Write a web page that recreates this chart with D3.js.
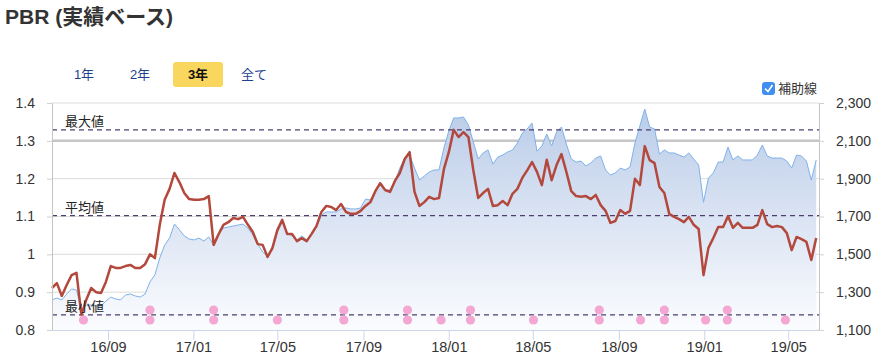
<!DOCTYPE html>
<html>
<head>
<meta charset="utf-8">
<script src="https://cdn.jsdelivr.net/npm/d3@7"></script>
<style>
  body { margin: 0; background: #fff; }
  text { font-family: "Liberation Sans", "Noto Sans CJK JP", sans-serif; }
</style>
</head>
<body>
<div id="container"></div>
<script>
// weekly PBR (left axis) and share price (right axis), starting 2016-06-13
let startDate = new Date(2016, 5, 13);
let endDate = new Date(2019, 5, 14);

let pbr = [
  0.911,0.924,0.890,0.919,0.945,0.951,0.84,0.88,0.911,0.900,
  0.898,0.927,0.969,0.964,0.964,0.969,0.972,0.964,0.964,0.974,
  1.00,0.99,1.078,1.144,1.173,1.215,1.191,1.162,1.146,1.144,
  1.144,1.146,1.154,1.025,1.053,1.078,1.085,1.096,1.093,1.099,
  1.078,1.059,1.027,1.025,0.993,1.017,1.064,1.091,1.054,1.054,
  1.035,1.043,1.035,1.054,1.075,1.112,1.128,1.125,1.117,1.133,
  1.112,1.107,1.107,1.115,1.128,1.138,1.167,1.188,1.17,1.165,
  1.194,1.215,1.252,1.27,1.165,1.128,1.138,1.152,1.146,1.149,
  1.225,1.27,1.329,1.31,1.323,1.31,1.223,1.149,1.162,1.173,
  1.128,1.13,1.141,1.13,1.16,1.173,1.202,1.222,1.244,1.218,
  1.183,1.25,1.196,1.236,1.265,1.218,1.167,1.154,1.152,1.154,
  1.146,1.157,1.13,1.115,1.083,1.088,1.117,1.107,1.115,1.2,
  1.183,1.286,1.249,1.241,1.178,1.162,1.107,1.099,1.093,1.085,
  1.099,1.078,1.067,0.945,1.017,1.043,1.072,1.072,1.101,1.07,
  1.083,1.07,1.07,1.07,1.078,1.117,1.08,1.072,1.075,1.072,
  1.056,1.011,1.046,1.04,1.033,0.985,1.043
];

let price = [
  1259,1269,1259,1290,1317,1311,1205,1230,1232,1227,
  1227,1253,1274,1264,1259,1285,1290,1280,1274,1290,
  1354,1391,1481,1549,1586,1660,1630,1597,1581,1576,
  1586,1570,1592,1549,1607,1639,1644,1650,1655,1660,
  1639,1602,1555,1512,1491,1523,1618,1671,1613,1597,
  1576,1597,1576,1607,1644,1708,1724,1724,1724,1740,
  1745,1740,1740,1745,1792,1787,1829,1882,1840,1840,
  1882,1956,2009,2025,1956,1893,1914,1935,1946,1946,
  2062,2152,2221,2221,2226,2184,2095,2004,2036,2052,
  1977,2014,2025,2041,2052,2088,2141,2163,2194,2046,
  2073,2136,2073,2147,2173,2083,2004,1988,1993,1967,
  1983,2009,2020,1946,1919,1930,1956,1946,1962,2088,
  2178,2268,2173,2163,2030,2052,2036,2036,2025,2014,
  2036,2004,1972,1775,1903,1930,1988,1988,2067,1999,
  2020,1999,1999,1999,2025,2078,2020,2009,2009,2009,
  1993,1956,2025,2020,1993,1893,1999
];

let eventDates = ["2016-07-28","2016-10-31","2017-01-30","2017-05-01","2017-08-04",
  "2017-11-03","2017-12-21","2018-02-01","2018-05-02","2018-08-04","2018-10-02",
  "2018-11-05","2019-01-03","2019-02-03","2019-04-27"];
let eventCounts = [1,2,2,1,2,2,1,2,1,2,1,2,1,2,1];

let leftTicks = [0.8, 0.9, 1.0, 1.1, 1.2, 1.3, 1.4];
let rightTicks = [1100, 1300, 1500, 1700, 1900, 2100, 2300];
let rangeButtons = ["1年", "2年", "3年", "全て"];
let activeButton = "3年";

let w = 883;
let h = 362;

let viz = d3.select("#container")
  .append("svg")
    .attr("width", w)
    .attr("height", h)
    .style("display", "block")
;

let dates = pbr.map((d, i) => d3.timeDay.offset(startDate, 7 * i));
let rows = pbr.map((d, i) => ({date: dates[i], pbr: d, price: price[i]}));

let x = d3.scaleTime().domain([startDate, endDate]).range([52, 819]);
let yL = d3.scaleLinear().domain([0.8, 1.4]).range([330, 103]);
let yR = d3.scaleLinear().domain([1100, 2300]).range([330, 103]);

// title
viz.append("text")
    .attr("x", 5)
    .attr("y", 24)
    .attr("font-size", 21)
    .attr("font-weight", "bold")
    .attr("fill", "#333")
    .text("PBR (実績ベース)")
;

// range buttons
let btnX = [84, 140, 198, 254];
let btns = viz.selectAll(".btn").data(rangeButtons).enter()
  .append("g")
    .attr("class", "btn")
    .attr("transform", (d, i) => "translate(" + btnX[i] + ",0)")
;
btns.filter(d => d == activeButton).append("rect")
    .attr("x", -25).attr("y", 62)
    .attr("width", 50).attr("height", 25)
    .attr("rx", 3)
    .attr("fill", "#f9d75e")
;
btns.append("text")
    .attr("y", 79)
    .attr("text-anchor", "middle")
    .attr("font-size", 13)
    .attr("font-weight", d => d == activeButton ? "bold" : "normal")
    .attr("fill", d => d == activeButton ? "#111" : "#1f3f8f")
    .text(d => d)
;

// checkbox legend
viz.append("rect")
    .attr("x", 762).attr("y", 82)
    .attr("width", 13).attr("height", 13)
    .attr("rx", 3)
    .attr("fill", "#3f8ef0")
;
viz.append("path")
    .attr("d", "M765,88.5 L768,91.5 L772.5,85")
    .attr("fill", "none")
    .attr("stroke", "#fff")
    .attr("stroke-width", 1.6)
;
viz.append("text")
    .attr("x", 778).attr("y", 93)
    .attr("font-size", 13)
    .attr("fill", "#333")
    .text("補助線")
;

// grid
viz.selectAll(".grid").data(leftTicks).enter()
  .append("line")
    .attr("class", "grid")
    .attr("x1", 52).attr("x2", 819)
    .attr("y1", d => yL(d)).attr("y2", d => yL(d))
    .attr("stroke", d => d == 1.3 ? "#c6c6c6" : "#dcdcdc")
    .attr("stroke-width", d => d == 1.3 ? 2.5 : 1)
;

// price area
let grad = viz.append("defs").append("linearGradient")
    .attr("id", "areaGrad")
    .attr("gradientUnits", "userSpaceOnUse")
    .attr("x1", 0).attr("x2", 0)
    .attr("y1", 103).attr("y2", 330)
;
grad.append("stop").attr("offset", "0%").attr("stop-color", "#b9cbe8");
grad.append("stop").attr("offset", "100%").attr("stop-color", "#fbfcfe");

viz.append("path")
    .datum(rows)
    .attr("d", d3.area().x(d => x(d.date)).y0(yR(1100)).y1(d => yR(d.price)))
    .attr("fill", "url(#areaGrad)")
;
viz.append("path")
    .datum(rows)
    .attr("d", d3.line().x(d => x(d.date)).y(d => yR(d.price)))
    .attr("fill", "none")
    .attr("stroke", "#7eb2ea")
    .attr("stroke-width", 1)
;

// reference lines
let refs = [
  {label: "最大値", v: d3.max(pbr)},
  {label: "平均値", v: d3.mean(pbr)},
  {label: "最小値", v: d3.min(pbr)}
];
viz.selectAll(".ref").data(refs).enter()
  .append("line")
    .attr("class", "ref")
    .attr("x1", 52).attr("x2", 819)
    .attr("y1", d => yL(d.v)).attr("y2", d => yL(d.v))
    .attr("stroke", "#4d3f70")
    .attr("stroke-width", 1.2)
    .attr("stroke-dasharray", "5,4")
;

// pbr line
viz.append("path")
    .datum(rows)
    .attr("d", d3.line().x(d => x(d.date)).y(d => yL(d.pbr)))
    .attr("fill", "none")
    .attr("stroke", "#b3483d")
    .attr("stroke-width", 2.5)
    .attr("stroke-linejoin", "round")
;

viz.selectAll(".refLabel").data(refs).enter()
  .append("text")
    .attr("class", "refLabel")
    .attr("x", 65)
    .attr("y", d => yL(d.v) - 4)
    .attr("font-size", 13)
    .attr("fill", "#222")
    .text(d => d.label)
;

// axes
let leftAxis = viz.append("g")
    .attr("transform", "translate(52,0)")
    .call(d3.axisLeft(yL).tickValues(leftTicks).tickSize(5).tickSizeOuter(0).tickPadding(12)
      .tickFormat(d => String(+d.toFixed(1))))
;
let rightAxis = viz.append("g")
    .attr("transform", "translate(819,0)")
    .call(d3.axisRight(yR).tickValues(rightTicks).tickSize(5).tickSizeOuter(0).tickPadding(12)
      .tickFormat(d3.format(",")))
;
[leftAxis, rightAxis].forEach(a => {
  a.select(".domain").attr("stroke", "#c4c4c4");
  a.selectAll(".tick line").attr("stroke", "#d0d0d0");
  a.selectAll(".tick text").attr("font-size", 14).attr("fill", "#333")
    .style("font-family", "'Liberation Sans', sans-serif");
});

let bottomAxis = viz.append("g")
    .attr("transform", "translate(0,330)")
    .call(d3.axisBottom(x).ticks(d3.timeMonth.every(4)).tickFormat(d3.timeFormat("%y/%m"))
      .tickSize(10).tickSizeOuter(0).tickPadding(2))
;
bottomAxis.select(".domain").attr("stroke", "#ccd6eb");
bottomAxis.selectAll(".tick line").attr("stroke", "#ccd6eb");
bottomAxis.selectAll(".tick text").attr("font-size", 14.5).attr("fill", "#333")
    .style("font-family", "'Liberation Sans', sans-serif");

// event markers
let dots = [];
eventDates.forEach((d, i) => {
  for (let k = 0; k < eventCounts[i]; k++) dots.push({date: new Date(d + "T00:00:00"), k: k});
});
viz.selectAll(".evt").data(dots).enter()
  .append("circle")
    .attr("class", "evt")
    .attr("cx", d => x(d.date))
    .attr("cy", d => yL(0.8) - 10 - 10 * d.k)
    .attr("r", 4.6)
    .attr("fill", "#f4a7d3")
;
</script>
</body>
</html>
